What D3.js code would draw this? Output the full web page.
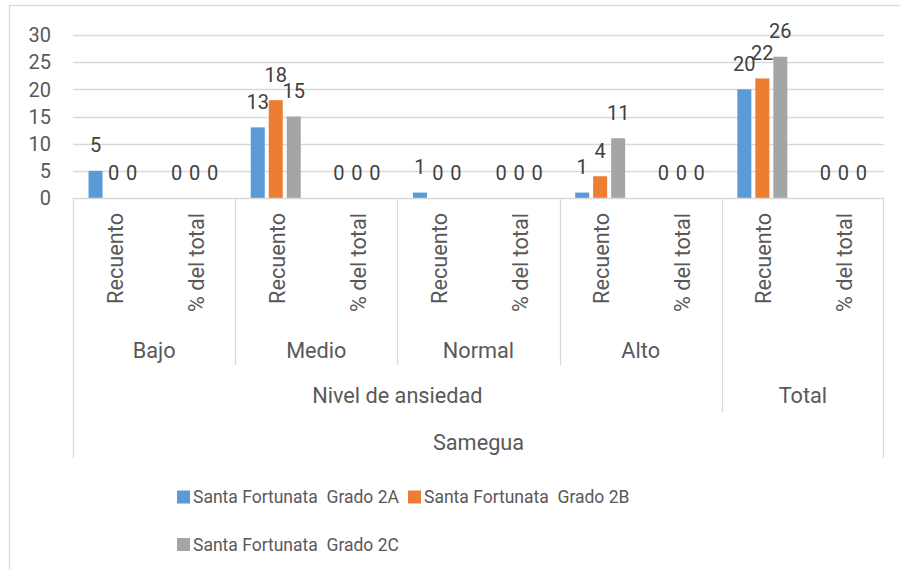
<!DOCTYPE html>
<html>
<head>
<meta charset="utf-8">
<script src="https://cdn.jsdelivr.net/npm/d3@7"></script>
<style>
  body { margin: 0; background: #fff; }
  svg { display: block; font-family: Roboto, "Liberation Sans", sans-serif; }
</style>
</head>
<body>
<div id="chart"></div>
<script>
// data
var niveles = ['Bajo', 'Medio', 'Normal', 'Alto', 'Total'];
var medidas = ['Recuento', '% del total'];
var series = ['Santa Fortunata  Grado 2A', 'Santa Fortunata  Grado 2B', 'Santa Fortunata  Grado 2C'];
var colores = ['#5B9BD5', '#ED7D31', '#A5A5A5'];
// values per category: Bajo R, Bajo %, Medio R, Medio %, Normal R, Normal %, Alto R, Alto %, Total R, Total %
var grado2A = [5, 0, 13, 0, 1, 0, 1, 0, 20, 0];
var grado2B = [0, 0, 18, 0, 0, 0, 4, 0, 22, 0];
var grado2C = [0, 0, 15, 0, 0, 0, 11, 0, 26, 0];
var yTicks = [0, 5, 10, 15, 20, 25, 30];

var valores = [grado2A, grado2B, grado2C];
var categorias = [];
niveles.forEach(function(n) {
    medidas.forEach(function(m) {
        categorias.push({ nivel: n, medida: m, key: n + '|' + m });
    });
});

var width = 900, height = 569;
var textColor = '#595959';
var lineColor = '#D9D9D9';
var axisFont = 21.7;

var svg = d3.select('#chart').append('svg')
    .attr('width', width)
    .attr('height', height);

svg.append('rect').attr('x', 0).attr('y', 0).attr('width', width).attr('height', height).attr('fill', '#fff');
svg.append('rect').attr('x', 9.5).attr('y', 5.5).attr('width', 1000).attr('height', 1000)
    .attr('fill', 'none').attr('stroke', lineColor).attr('stroke-width', 1.3);

var plotLeft = 73, plotRight = 884, plotTop = 35, plotBottom = 198;

var x = d3.scaleBand()
    .domain(categorias.map(function(c) { return c.key; }))
    .range([plotLeft, plotRight]);

var xs = d3.scaleBand()
    .domain(series)
    .range([0, x.bandwidth()])
    .paddingInner(0.222)
    .paddingOuter(0.864);

var y = d3.scaleLinear().domain([0, 30]).range([plotBottom, plotTop]);

// gridlines
svg.append('g').selectAll('line')
    .data(yTicks.filter(function(t) { return t > 0; }))
    .enter().append('line')
    .attr('x1', plotLeft).attr('x2', plotRight)
    .attr('y1', function(d) { return Math.round(y(d)) + 0.5; })
    .attr('y2', function(d) { return Math.round(y(d)) + 0.5; })
    .attr('stroke', lineColor).attr('stroke-width', 1.3);

// y axis labels
svg.append('g').selectAll('text')
    .data(yTicks)
    .enter().append('text')
    .attr('x', 51)
    .attr('y', function(d) { return y(d); })
    .attr('dy', '0.36em')
    .attr('text-anchor', 'end')
    .attr('fill', textColor)
    .attr('font-size', 20)
    .text(function(d) { return d; });

// bars
var barras = [];
valores.forEach(function(vals, si) {
    vals.forEach(function(v, ci) {
        barras.push({ serie: series[si], color: colores[si], cat: categorias[ci].key, value: v });
    });
});

svg.append('g').selectAll('rect')
    .data(barras.filter(function(d) { return d.value > 0; }))
    .enter().append('rect')
    .attr('x', function(d) { return x(d.cat) + xs(d.serie); })
    .attr('y', function(d) { return y(d.value); })
    .attr('width', xs.bandwidth())
    .attr('height', function(d) { return y(0) - y(d.value); })
    .attr('fill', function(d) { return d.color; });

// data labels
svg.append('g').selectAll('text')
    .data(barras)
    .enter().append('text')
    .attr('x', function(d) { return x(d.cat) + xs(d.serie) + xs.bandwidth() / 2; })
    .attr('y', function(d) { return y(d.value) - 18.5; })
    .attr('text-anchor', 'middle')
    .attr('fill', '#404040')
    .attr('font-size', 20)
    .text(function(d) { return d.value; });

// multi-level category axis
var axis = svg.append('g').attr('stroke', lineColor).attr('stroke-width', 1.3);
var level2Bottom = 365, level3Bottom = 412, level4Bottom = 458;
axis.append('line').attr('x1', plotLeft).attr('x2', plotRight).attr('y1', plotBottom + 0.5).attr('y2', plotBottom + 0.5);
axis.append('line').attr('x1', plotLeft + 0.5).attr('x2', plotLeft + 0.5).attr('y1', plotBottom).attr('y2', level4Bottom);
axis.append('line').attr('x1', plotRight - 0.5).attr('x2', plotRight - 0.5).attr('y1', plotBottom).attr('y2', level4Bottom);

var groupEdges = niveles.slice(1).map(function(n) { return Math.round(x(n + '|' + medidas[0])) + 0.5; });
axis.selectAll('line.grp')
    .data(groupEdges)
    .enter().append('line')
    .attr('class', 'grp')
    .attr('x1', function(d) { return d; }).attr('x2', function(d) { return d; })
    .attr('y1', plotBottom)
    .attr('y2', function(d, i) { return i === groupEdges.length - 1 ? level3Bottom : level2Bottom; });

// level 1: rotated labels
svg.append('g').selectAll('text')
    .data(categorias)
    .enter().append('text')
    .attr('transform', function(d) {
        return 'translate(' + (x(d.key) + x.bandwidth() / 2 + 9) + ',213) rotate(-90)';
    })
    .attr('text-anchor', 'end')
    .attr('fill', textColor)
    .attr('font-size', axisFont)
    .text(function(d) { return d.medida; });

// level 2: nivel labels (not Total)
svg.append('g').selectAll('text')
    .data(niveles.slice(0, 4))
    .enter().append('text')
    .attr('x', function(n) { return x(n + '|' + medidas[0]) + x.bandwidth(); })
    .attr('y', 358)
    .attr('text-anchor', 'middle')
    .attr('fill', textColor)
    .attr('font-size', axisFont)
    .text(function(n) { return n; });

// level 3
var nivelSpanEnd = x('Total|' + medidas[0]);
svg.append('text')
    .attr('x', (plotLeft + nivelSpanEnd) / 2)
    .attr('y', 403)
    .attr('text-anchor', 'middle')
    .attr('fill', textColor)
    .attr('font-size', axisFont)
    .text('Nivel de ansiedad');
svg.append('text')
    .attr('x', (nivelSpanEnd + plotRight) / 2)
    .attr('y', 403)
    .attr('text-anchor', 'middle')
    .attr('fill', textColor)
    .attr('font-size', axisFont)
    .text('Total');

// level 4
svg.append('text')
    .attr('x', (plotLeft + plotRight) / 2)
    .attr('y', 450)
    .attr('text-anchor', 'middle')
    .attr('fill', textColor)
    .attr('font-size', axisFont)
    .text('Samegua');

// legend
var legendPos = [[177, 497], [408, 497], [177, 544.5]];
var legend = svg.append('g').selectAll('g')
    .data(series)
    .enter().append('g')
    .attr('transform', function(d, i) { return 'translate(' + legendPos[i][0] + ',' + legendPos[i][1] + ')'; });
legend.append('rect')
    .attr('x', 0).attr('y', -6.5).attr('width', 13).attr('height', 13)
    .attr('fill', function(d, i) { return colores[i]; });
legend.append('text')
    .attr('x', 16)
    .attr('dy', '0.36em')
    .attr('fill', textColor)
    .attr('font-size', 17.5)
    .attr('xml:space', 'preserve')
    .style('white-space', 'pre')
    .text(function(d) { return d; });
</script>
</body>
</html>
